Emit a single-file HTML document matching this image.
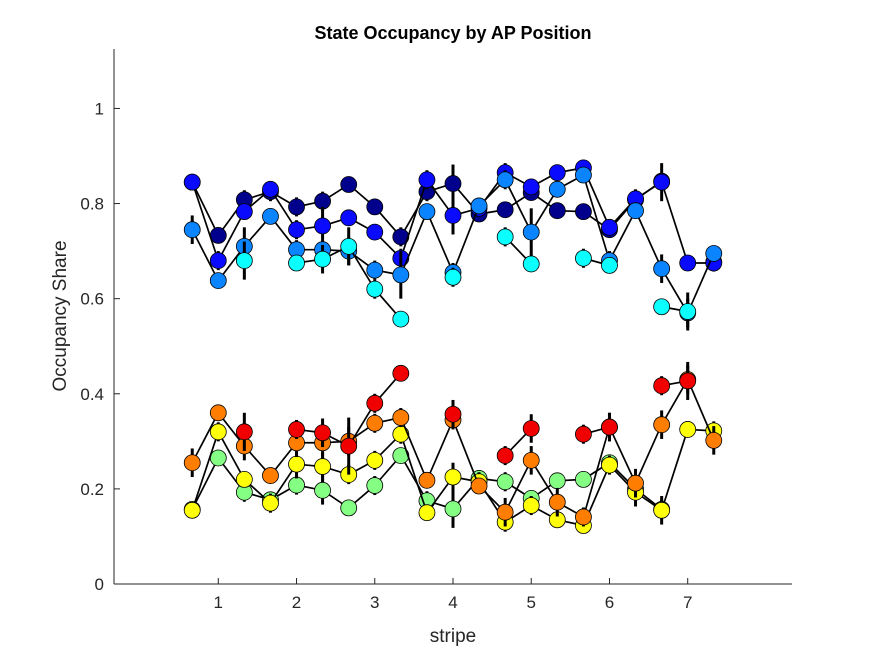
<!DOCTYPE html>
<html><head><meta charset="utf-8"><style>
body{margin:0;background:#fff;}
svg{display:block;font-family:"Liberation Sans",Arial,sans-serif;}
</style></head><body>
<svg id="chart" width="875" height="656">
<text x="453" y="39" text-anchor="middle" font-size="18" font-weight="bold" fill="#000">State Occupancy by AP Position</text>
<text x="453" y="642" text-anchor="middle" font-size="19" fill="#262626">stripe</text>
<text transform="translate(66,316) rotate(-90)" text-anchor="middle" font-size="19" fill="#262626">Occupancy Share</text>
<g id="axes"></g>
<g id="plot"></g>
</svg>
<script>
const xPositions = [0.667,1,1.333,1.667,2,2.333,2.667,3,3.333,3.667,4,4.333,4.667,5,5.333,5.667,6,6.333,6.667,7,7.333];
const xTicks = [1,2,3,4,5,6,7];
const yTicks = [0,0.2,0.4,0.6,0.8,1];
const yTickLabels = ["0","0.2","0.4","0.6","0.8","1"];
const seriesNames = ["navy","blue","azure","cyan","green","yellow","orange","red"];
const seriesColors = ["#00008c","#0a0aff","#0a84ff","#0affff","#84ff84","#ffff0a","#ff7d00","#f00000"];
const navyVals = [0.845,0.733,0.808,0.825,0.793,0.805,0.84,0.793,0.73,0.825,0.842,0.778,0.787,0.823,0.785,0.783,0.745,0.808,0.847,null,0.677];
const blueVals = [0.845,0.68,0.783,0.83,0.745,0.753,0.77,0.74,0.685,0.85,0.775,0.79,0.865,0.835,0.865,0.875,0.75,0.81,0.845,0.675,0.675];
const azureVals = [0.745,0.638,0.71,0.773,0.703,0.703,0.70,0.66,0.65,0.783,0.655,0.795,0.85,0.74,0.83,0.86,0.68,0.785,0.663,0.57,0.695];
const cyanVals = [null,null,0.68,null,0.675,0.683,0.71,0.62,0.557,null,0.645,null,0.73,0.673,null,0.685,0.67,null,0.583,0.573,null];
const greenVals = [0.157,0.265,0.193,0.177,0.208,0.197,0.16,0.207,0.27,0.175,0.158,0.222,0.215,0.18,0.217,0.22,0.255,0.2,0.157,null,null];
const yellowVals = [0.155,0.32,0.22,0.17,0.252,0.247,0.23,0.26,0.315,0.15,0.225,0.215,0.13,0.165,0.135,0.123,0.25,0.193,0.155,0.325,0.322];
const orangeVals = [0.255,0.36,0.29,0.228,0.297,0.297,0.3,0.338,0.35,0.218,0.345,0.206,0.151,0.26,0.172,0.141,0.33,0.212,0.335,0.43,0.302];
const redVals = [null,null,0.32,null,0.325,0.318,0.29,0.38,0.443,null,0.357,null,0.27,0.327,null,0.315,0.33,null,0.417,0.427,null];
const navyErr = [0.01,0.01,0.02,0.02,0.02,0.02,0.01,0.01,0.02,0.02,0.04,0.01,0.01,0.01,0.01,0.01,0.01,0.02,0.01,0,0.02];
const blueErr = [0.01,0.02,0.01,0.01,0.02,0.04,0.01,0.01,0.02,0.02,0.04,0.01,0.02,0.01,0.01,0.01,0.01,0.02,0.04,0.01,0.01];
const azureErr = [0.03,0.01,0.04,0.01,0.02,0.02,0.03,0.02,0.05,0.01,0.02,0.01,0.02,0.05,0.01,0.01,0.02,0.01,0.03,0.03,0.01];
const cyanErr = [0,0,0.04,0,0.01,0.03,0.04,0.02,0.01,0,0.02,0,0.02,0.01,0,0.02,0.01,0,0.01,0.04,0];
const greenErr = [0.01,0.01,0.02,0.01,0.02,0.03,0.01,0.02,0.01,0.02,0.04,0.01,0.02,0.01,0.01,0.01,0.01,0.02,0.02,0,0];
const yellowErr = [0.01,0.02,0.01,0.02,0.03,0.03,0.02,0.02,0.02,0.01,0.03,0.02,0.02,0.02,0.01,0.01,0.02,0.03,0.03,0.01,0.02];
const orangeErr = [0.03,0.01,0.03,0.01,0.03,0.03,0.03,0.02,0.02,0.01,0.02,0.01,0.03,0.03,0.03,0.02,0.03,0.03,0.03,0.03,0.03];
const redErr = [0,0,0.04,0,0.02,0.03,0.06,0.02,0.01,0,0.03,0,0.02,0.03,0,0.02,0.03,0,0.02,0.04,0];
const allVals = [navyVals,blueVals,azureVals,cyanVals,greenVals,yellowVals,orangeVals,redVals];
const allErr = [navyErr,blueErr,azureErr,cyanErr,greenErr,yellowErr,orangeErr,redErr];

const L=114,R=792,T=49,B=584;
const xMin=-0.333,xMax=8.333,yMin=0,yMax=1.125;
const xs=v=>L+(v-xMin)/(xMax-xMin)*(R-L);
const ys=v=>B-(v-yMin)/(yMax-yMin)*(B-T);
const NS="http://www.w3.org/2000/svg";
function mk(tag,attrs,parent){const e=document.createElementNS(NS,tag);for(const k in attrs)e.setAttribute(k,attrs[k]);parent.appendChild(e);return e;}
const axes=document.getElementById('axes'), plot=document.getElementById('plot');
let a=mk('line',{x1:L,y1:T,x2:L,y2:B,stroke:'#262626','stroke-width':1},axes);


a=mk('line',{x1:L,y1:B,x2:R,y2:B,stroke:'#262626','stroke-width':1},axes);


yTicks.forEach((t,i)=>{
  const y=ys(t);
  const tk=mk('line',{x1:L,y1:y,x2:L+6,y2:y,stroke:'#262626'},axes);
  
  
  const tx=mk('text',{x:L-10,y:y+6,'text-anchor':'end','font-size':17,fill:'#262626'},axes);
  tx.textContent=yTickLabels[i];
  
  
});
xTicks.forEach(t=>{
  const x=xs(t);
  const tk=mk('line',{x1:x,y1:B,x2:x,y2:B-6,stroke:'#262626'},axes);
  
  
  const tx=mk('text',{x:x,y:B+24,'text-anchor':'middle','font-size':17,fill:'#262626'},axes);
  tx.textContent=String(t);
  
  
});
allVals.forEach((vals,s)=>{
  const g=mk('g',{},plot);
  
  
  const err=allErr[s];
  vals.forEach((v,i)=>{
    if(v===null||!err[i])return;
    const e=mk('line',{x1:xs(xPositions[i]),x2:xs(xPositions[i]),y1:ys(v-err[i]),y2:ys(v+err[i]),stroke:'#000','stroke-width':3},g);
    
    
  });
  for(let i=0;i<vals.length-1;i++){
    if(vals[i]===null||vals[i+1]===null)continue;
    const ln=mk('line',{x1:xs(xPositions[i]),y1:ys(vals[i]),x2:xs(xPositions[i+1]),y2:ys(vals[i+1]),stroke:'#000','stroke-width':1.7},g);
    
    
  }
  vals.forEach((v,i)=>{
    if(v===null)return;
    const c=mk('circle',{cx:xs(xPositions[i]),cy:ys(v),r:8,fill:seriesColors[s],stroke:'#000','stroke-width':0.8},g);
    
    
  });
});
</script>
</body></html>
